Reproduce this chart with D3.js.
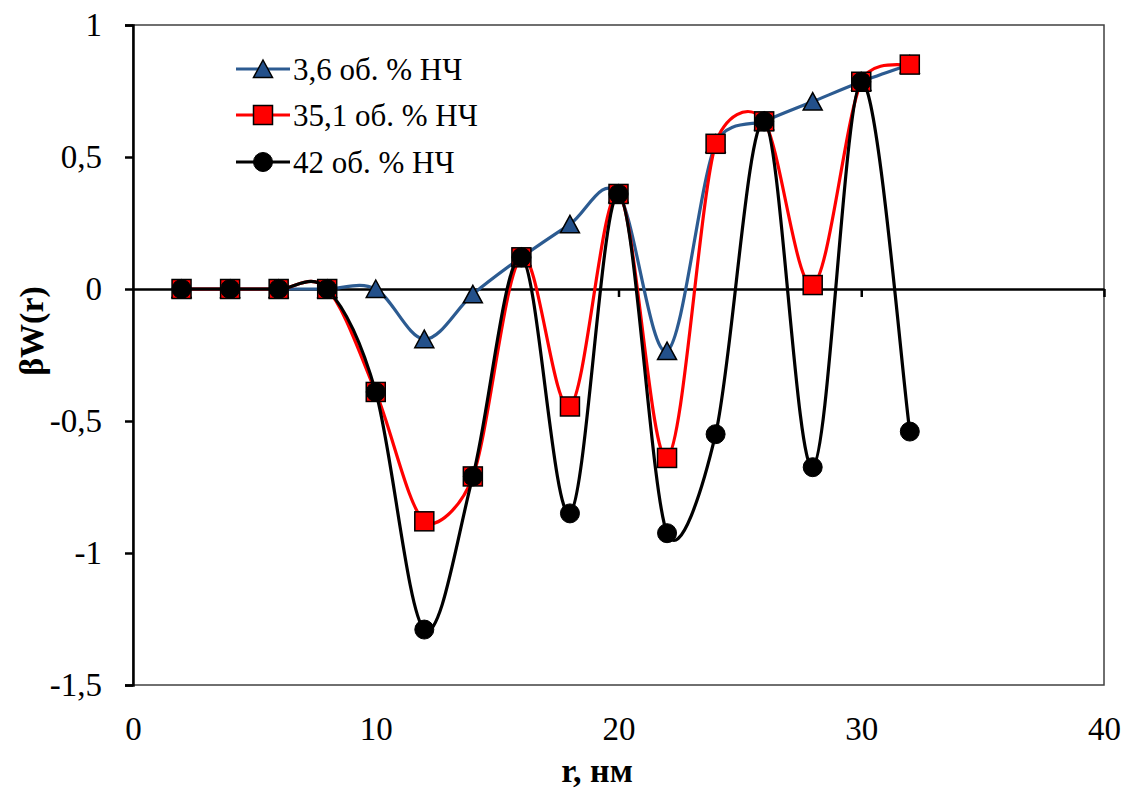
<!DOCTYPE html>
<html><head><meta charset="utf-8">
<script src="https://cdn.jsdelivr.net/npm/d3@7/dist/d3.min.js"></script>
</head><body style="margin:0">
<svg id="c" width="1131" height="792" style="font-family:'Liberation Serif', Tinos, serif"></svg>
<script>
const rValues = [2,4,6,8,10,12,14,16,18,20,22,24,26,28,30,32];
const series36 = [0,0,0,0,0,-0.19,-0.02,0.12,0.245,0.36,-0.235,0.55,0.635,0.71,0.785,0.85];
const series351 = [0,0,0,0,-0.39,-0.88,-0.71,0.12,-0.445,0.36,-0.64,0.55,0.635,0.015,0.785,0.85];
const series42 = [0,0,0,0,-0.39,-1.29,-0.71,0.12,-0.85,0.36,-0.925,-0.55,0.635,-0.675,0.785,-0.54];
const seriesNames = ["3,6 об. % НЧ","35,1 об. % НЧ","42 об. % НЧ"];
const xTicks = [0,10,20,30,40];
const yTicks = [-1.5,-1,-0.5,0,0.5,1];
const xTitle = "r, нм";
const yTitle = "βW(r)";

const FONT = '"Liberation Serif", Tinos, serif';
const setFont = (sel, size, bold) => sel
  .attr("font-family", FONT)
  .style("font-family", FONT, "important")
  .style("font-size", size + "px", "important")
  .style("font-weight", bold ? "bold" : "normal", "important")
  .style("fill", "#000");

const svg = d3.select("#c");
const x = d3.scaleLinear().domain([0,40]).range([133,1104]);
const y = d3.scaleLinear().domain([-1.5,1]).range([685,25]);
const fmt = d => String(d).replace(".", ",");

// plot border
svg.append("rect").attr("x",x(0)).attr("y",y(1)).attr("width",x(40)-x(0)).attr("height",y(-1.5)-y(1))
  .attr("fill","none").attr("stroke","#404040").attr("stroke-width",1.5);

// y axis
const ya = svg.append("g").attr("transform",`translate(${x(0)},0)`)
  .call(d3.axisLeft(y).tickValues(yTicks).tickFormat(fmt).tickSize(8).tickPadding(23));
ya.attr("font-family",FONT).attr("font-size",33);
ya.select(".domain").attr("stroke","#000").attr("stroke-width",2.5);
ya.selectAll(".tick line").attr("stroke","#000").attr("stroke-width",2.5);
setFont(ya.selectAll("text"), 33, false);

// zero line with ticks
const za = svg.append("g").attr("transform",`translate(0,${y(0)})`)
  .call(d3.axisBottom(x).tickValues(xTicks.slice(1)).tickFormat("").tickSize(8).tickSizeOuter(0));
za.select(".domain").attr("stroke","#000").attr("stroke-width",2.5);
za.selectAll(".tick line").attr("stroke","#000").attr("stroke-width",2.5);

// x labels at bottom
const xa = svg.append("g").attr("transform",`translate(0,${y(-1.5)})`)
  .call(d3.axisBottom(x).tickValues(xTicks).tickFormat(d=>d).tickSize(0).tickPadding(32));
xa.attr("font-family",FONT).attr("font-size",33);
xa.select(".domain").remove();
setFont(xa.selectAll("text"), 33, false);

// titles
setFont(svg.append("text").attr("x",597).attr("y",782).attr("text-anchor","middle").text(xTitle), 34, true);
setFont(svg.append("text").attr("transform","translate(43,331) rotate(-90)").attr("text-anchor","middle").text(yTitle), 34, true);

const colors = ["#2c5b91","#ff0000","#000000"];
const fills = ["#23508a","#ff0000","#000000"];
const shapes = ["tri","sq","circ"];
const data = [series36, series351, series42];

// Excel-style smoothed path through pixel points
function excelSmooth(p){
  let d = `M${p[0][0]},${p[0][1]}`;
  const dist=(a,b)=>Math.hypot(a[0]-b[0],a[1]-b[1]);
  for(let i=0;i<p.length-1;i++){
    const p0=p[Math.max(i-1,0)], p1=p[i], p2=p[i+1], p3=p[Math.min(i+2,p.length-1)];
    const d12=dist(p1,p2), d02=dist(p0,p2)||1e-9, d13=dist(p1,p3)||1e-9;
    let f1, f2;
    const c1 = d02/6 < d12/2, c2 = d13/6 < d12/2;
    if(c1 && c2){ f1=1/6; f2=1/6; }
    else if(!c1 && !c2){ f1=d12/2/d02; f2=d12/2/d13; }
    else if(!c1){ f1=d12/2/d02; f2=d12/2/d02; }
    else { f1=d12/2/d13; f2=d12/2/d13; }
    const b1=[p1[0]+(p2[0]-p0[0])*f1, p1[1]+(p2[1]-p0[1])*f1];
    const b2=[p2[0]-(p3[0]-p1[0])*f2, p2[1]-(p3[1]-p1[1])*f2];
    d += `C${b1[0]},${b1[1]} ${b2[0]},${b2[1]} ${p2[0]},${p2[1]}`;
  }
  return d;
}

function marker(g, shape, cx, cy, fill){
  if(shape==="tri"){
    g.append("path").attr("d",`M${cx},${cy-9}L${cx+9.5},${cy+8.5}L${cx-9.5},${cy+8.5}Z`)
      .attr("fill",fill).attr("stroke","#000").attr("stroke-width",1.5);
  } else if(shape==="sq"){
    g.append("rect").attr("x",cx-9.5).attr("y",cy-9.5).attr("width",19).attr("height",19)
      .attr("fill",fill).attr("stroke","#000").attr("stroke-width",1.5);
  } else {
    g.append("circle").attr("cx",cx).attr("cy",cy).attr("r",9.5)
      .attr("fill",fill).attr("stroke","#000").attr("stroke-width",1);
  }
}

data.forEach((vals,i)=>{
  const pts = rValues.map((r,j)=>[x(r),y(vals[j])]);
  const g = svg.append("g");
  g.append("path").attr("d",excelSmooth(pts)).attr("fill","none").attr("stroke",colors[i]).attr("stroke-width",3.2);
  pts.forEach(p=>marker(g,shapes[i],p[0],p[1],fills[i]));
});

// legend
const legY = [69,115,162];
seriesNames.forEach((n,i)=>{
  const g = svg.append("g");
  g.append("line").attr("x1",236).attr("x2",290).attr("y1",legY[i]).attr("y2",legY[i])
    .attr("stroke",colors[i]).attr("stroke-width",3.2);
  marker(g,shapes[i],263,legY[i],fills[i]);
  setFont(g.append("text").attr("x",293).attr("y",legY[i]+11).text(n), 31, false);
});
</script>
</body></html>
